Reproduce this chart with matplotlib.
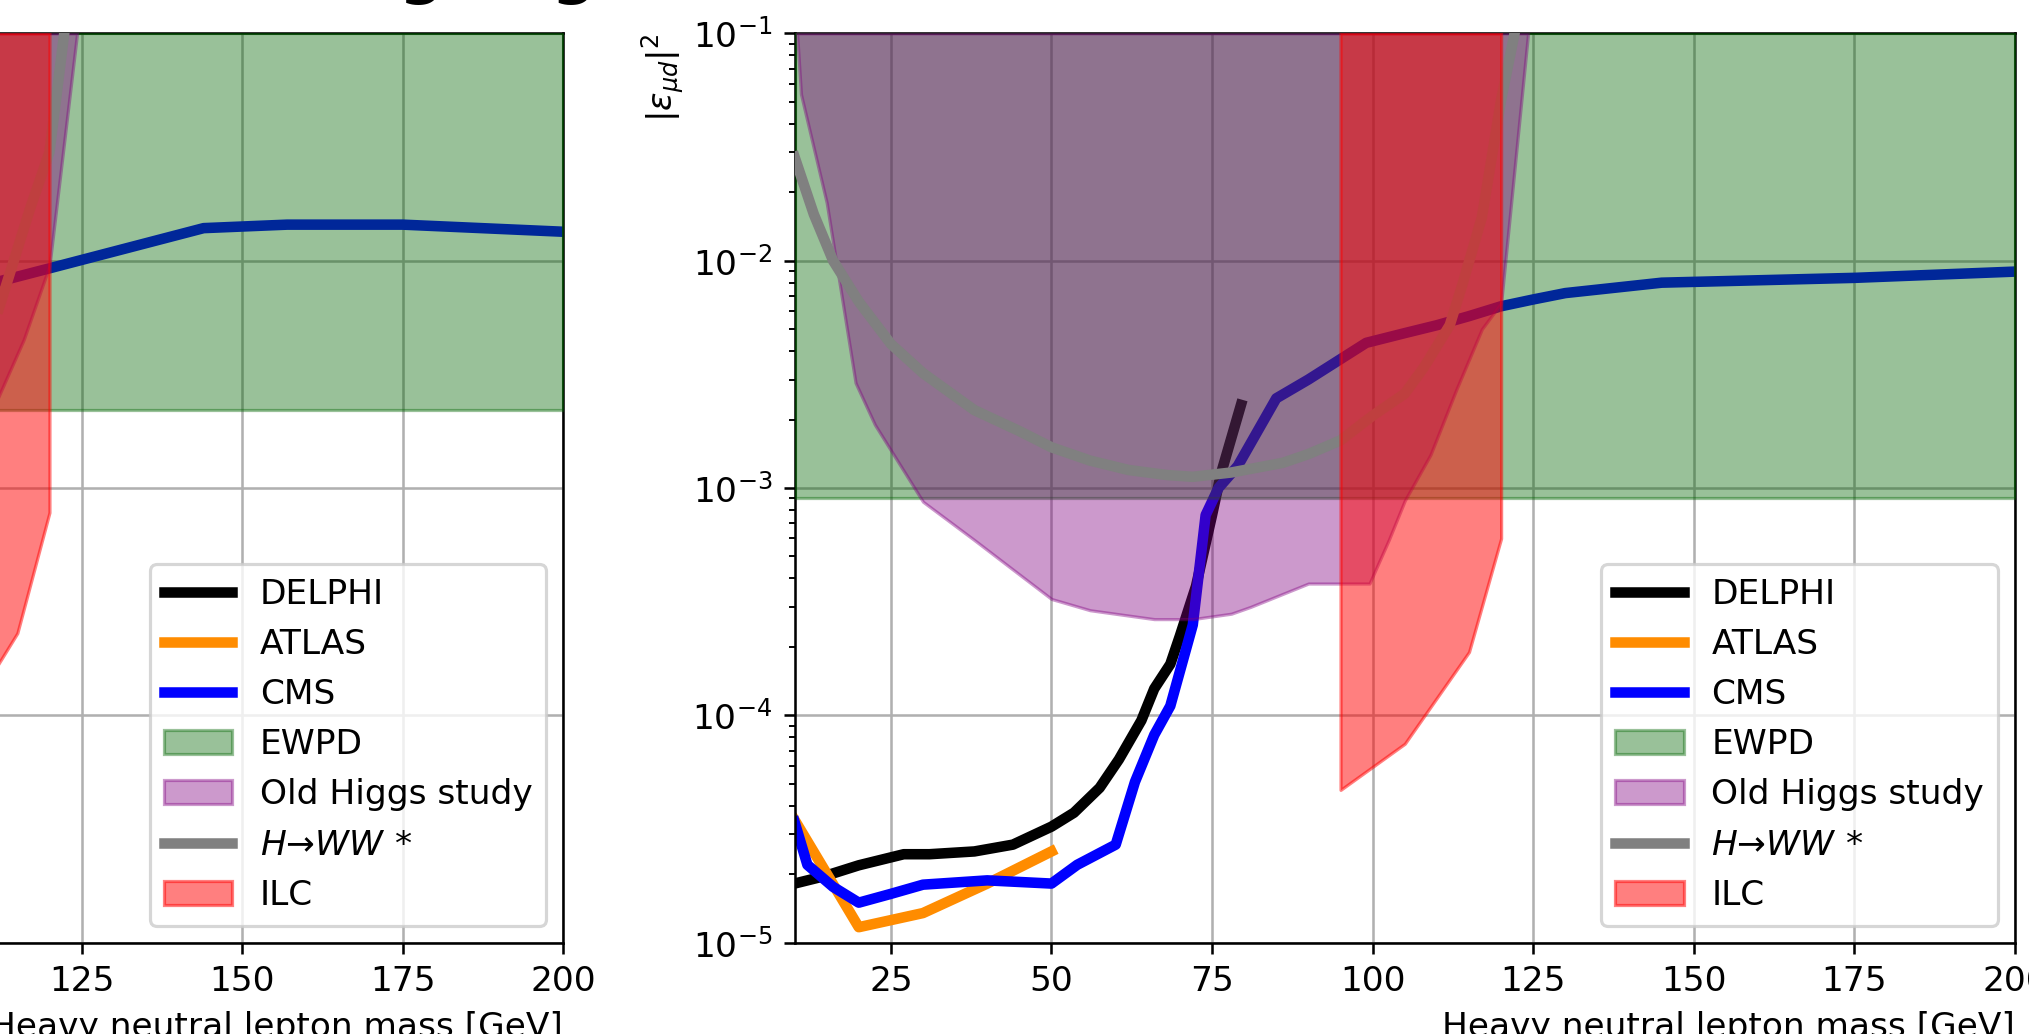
import numpy as np
import matplotlib.pyplot as plt

# Right panel: |eps_mu d|^2 limits vs HNL mass
delphi_x = [10, 14.6, 20, 27, 31, 38, 44, 50, 53.5, 57.5, 60.5, 64, 66, 68.5, 70, 72.5, 75, 76.4, 79.5]
delphi_y = [1.82e-5, 1.96e-5, 2.19e-5, 2.45e-5, 2.45e-5, 2.52e-5, 2.7e-5, 3.24e-5, 3.73e-5, 4.8e-5,
            6.4e-5, 9.5e-5, 1.31e-4, 1.68e-4, 2.24e-4, 3.7e-4, 7.6e-4, 1.16e-3, 2.32e-3]

atlas_x = [10, 20, 30, 40, 50]
atlas_y = [3.47e-5, 1.17e-5, 1.35e-5, 1.82e-5, 2.52e-5]

cms_x = [10, 12, 16, 20, 25, 30, 40, 50, 54, 60, 63, 66, 68.5, 72, 74, 76, 79, 85, 90, 99,
         105, 110, 115, 120, 125, 130, 145, 175, 200]
cms_y = [3.4e-5, 2.2e-5, 1.76e-5, 1.5e-5, 1.64e-5, 1.8e-5, 1.88e-5, 1.82e-5, 2.2e-5, 2.7e-5,
         5.1e-5, 8.2e-5, 1.1e-4, 2.5e-4, 7.6e-4, 1.0e-3, 1.25e-3, 2.48e-3, 3.0e-3, 4.35e-3,
         4.8e-3, 5.2e-3, 5.7e-3, 6.3e-3, 6.75e-3, 7.2e-3, 8.0e-3, 8.4e-3, 8.95e-3]

ewpd_x = [10, 200]
ewpd_low = 9e-4

higgs_x = [10.4, 11, 15, 19.5, 22.5, 30, 38, 43, 50, 56, 66, 72, 78, 81, 90, 99.5, 102.5, 105,
           109, 113, 117, 120, 124.2]
higgs_low = [1e-1, 5.4e-2, 1.8e-2, 2.9e-3, 1.9e-3, 8.7e-4, 5.9e-4, 4.6e-4, 3.25e-4, 2.9e-4,
             2.65e-4, 2.65e-4, 2.8e-4, 3e-4, 3.8e-4, 3.8e-4, 5.9e-4, 8.8e-4, 1.4e-3, 2.7e-3,
             5e-3, 6.5e-3, 1e-1]

hww_x = [10, 13, 16, 20, 25, 30, 38, 45, 50, 56, 62, 68, 72, 78, 86, 90, 95, 100, 105,
         108, 112, 114, 117, 118.5, 120, 122.1]
hww_y = [2.86e-2, 1.6e-2, 1.0e-2, 6.6e-3, 4.3e-3, 3.2e-3, 2.2e-3, 1.78e-3, 1.51e-3, 1.32e-3,
         1.2e-3, 1.14e-3, 1.12e-3, 1.17e-3, 1.29e-3, 1.41e-3, 1.62e-3, 2.08e-3, 2.6e-3,
         3.4e-3, 5.2e-3, 7.9e-3, 1.55e-2, 2.8e-2, 5.1e-2, 1e-1]

ilc_x = [95, 105, 115, 120]
ilc_low = [4.7e-5, 7.5e-5, 1.9e-4, 6e-4]

# Left panel (only the part above ~113 GeV is in the picture)
cms_l_x = [100, 120, 144, 157, 175, 200]
cms_l_y = [6.6e-3, 9.25e-3, 1.39e-2, 1.44e-2, 1.44e-2, 1.34e-2]
ewpd_l_low = 2.2e-3
higgs_l_x = [100, 106, 112, 116, 120, 124.3]
higgs_l_low = [1.0e-3, 1.6e-3, 2.5e-3, 4.5e-3, 9.5e-3, 1e-1]
hww_l_x = [100, 105, 112, 117, 120, 122.3]
hww_l_y = [2.5e-3, 3.2e-3, 6e-3, 1.7e-2, 3e-2, 1e-1]
ilc_l_x = [95, 105, 115, 120]
ilc_l_low = [6e-5, 8e-5, 2.3e-4, 7.8e-4]

top = 1e-1
lw = 3.3

plt.rcParams['font.size'] = 10.75

fig = plt.figure(figsize=(2030 / 230, 1034 / 230), dpi=230)
ax_l = fig.add_axes([-0.3237, 0.0883, 0.6012, 0.8795])
ax_r = fig.add_axes([0.3914, 0.0883, 0.6012, 0.8795])


def draw(ax, d, a, c, ew, h, w, il):
    ax.set_axisbelow(True)
    ax.plot(d[0], d[1], color='black', lw=lw, label='DELPHI', zorder=2)
    ax.plot(a[0], a[1], color='darkorange', lw=lw, label='ATLAS', zorder=2)
    ax.plot(c[0], c[1], color='blue', lw=lw, label='CMS', zorder=2)
    ax.fill_between(ewpd_x, ew, top, color='darkgreen', alpha=0.4, label='EWPD', zorder=3)
    ax.fill_between(h[0], h[1], top, color='purple', alpha=0.4, label='Old Higgs study', zorder=4)
    ax.plot(w[0], w[1], color='gray', lw=lw, label=r'$H→WW\,*$', zorder=5)
    ax.fill_between(il[0], il[1], top, color='red', alpha=0.5, label='ILC', zorder=6)
    ax.set_yscale('log')
    ax.set_xlim(10, 200)
    ax.set_ylim(1e-5, 1e-1)
    ax.grid(True)
    ax.set_xlabel('Heavy neutral lepton mass [GeV]', loc='right')
    ax.legend(loc='lower right')


draw(ax_l, ([], []), ([], []), (cms_l_x, cms_l_y), ewpd_l_low,
     (higgs_l_x, higgs_l_low), (hww_l_x, hww_l_y), (ilc_l_x, ilc_l_low))
draw(ax_r, (delphi_x, delphi_y), (atlas_x, atlas_y), (cms_x, cms_y), ewpd_low,
     (higgs_x, higgs_low), (hww_x, hww_y), (ilc_x, ilc_low))
ax_r.set_ylabel(r'$|\epsilon_{\mu d}|^2$', loc='top', labelpad=2)

fig.text(0.1034, 1.0077, 'Mixing angle limits', fontsize=19.5, fontweight='bold',
         va='baseline', ha='left')

fig.savefig('out.png', dpi=230)
